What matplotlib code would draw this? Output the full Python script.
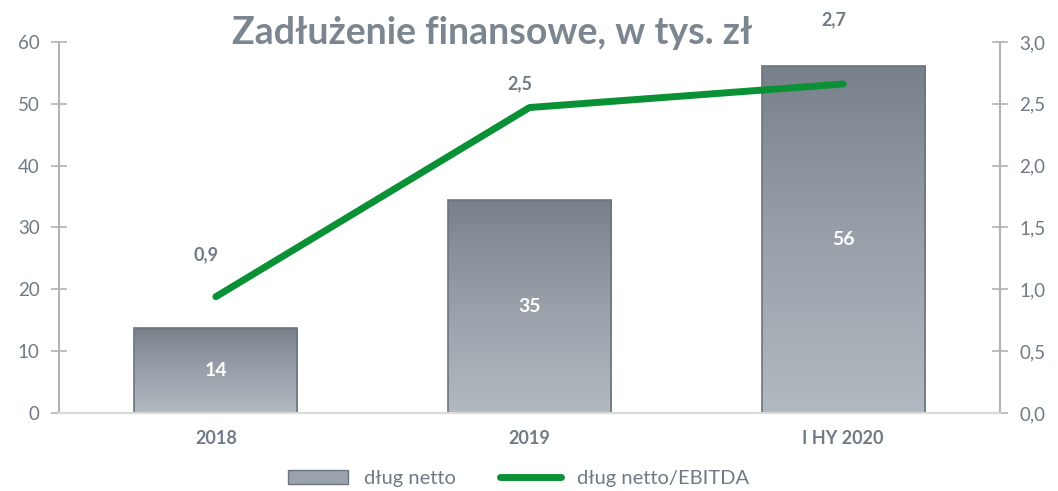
import numpy as np
import matplotlib.pyplot as plt
from matplotlib.patches import Rectangle
from matplotlib.lines import Line2D
from matplotlib.colors import LinearSegmentedColormap

plt.rcParams['font.family'] = ['Lato', 'DejaVu Sans']

categories = ['2018', '2019', 'I HY 2020']
debt = [13.8, 34.5, 56.1]
debt_labels = ['14', '35', '56']
ratio = [0.94, 2.47, 2.66]
ratio_labels = ['0,9', '2,5', '2,7']
left_ticks = [0, 10, 20, 30, 40, 50, 60]
right_ticks = [0.0, 0.5, 1.0, 1.5, 2.0, 2.5, 3.0]
right_tick_labels = ['0,0', '0,5', '1,0', '1,5', '2,0', '2,5', '3,0']

txt = '#6f7a86'
axis_col = '#b3b3b3'
green = '#0a9136'

fig = plt.figure(figsize=(10.58, 4.91), dpi=100)
ax = fig.add_axes([0.0558, 0.159, 0.8894, 0.7555])
ax2 = ax.twinx()

x = np.arange(len(categories))
width = 0.52
ax.set_xlim(-0.5, 2.5)
ax.set_ylim(0, 60)
ax2.set_ylim(0, 3)

# gradient bars, dark at the top, lighter at the bottom
cmap = LinearSegmentedColormap.from_list('bar', ['#b3b9c1', '#99a0a9', '#78818b'])
grad = np.linspace(0, 1, 256).reshape(-1, 1)
for xi, v, lab in zip(x, debt, debt_labels):
    rect = Rectangle((xi - width / 2, 0), width, v, facecolor='none',
                     edgecolor='#6c747d', linewidth=1.2, zorder=3)
    ax.add_patch(rect)
    im = ax.imshow(grad, cmap=cmap, aspect='auto', origin='lower',
                   extent=(xi - width / 2, xi + width / 2, 0, v), zorder=2)
    im.set_clip_path(rect)
    ax.text(xi, v / 2, lab, ha='center', va='center', color='white',
            fontsize=14, fontweight='bold', zorder=5)

ax.set_xticks(x)
ax.set_xticklabels(categories, fontsize=13, fontweight='bold', color=txt)
ax.set_yticks(left_ticks)
ax.tick_params(axis='y', colors=axis_col, labelcolor=txt, labelsize=13.5,
               direction='inout', length=12, width=1.2, pad=8)
ax.tick_params(axis='x', length=0, pad=12)

ax2.set_yticks(right_ticks)
ax2.set_yticklabels(right_tick_labels)
ax2.tick_params(axis='y', colors=axis_col, labelcolor=txt, labelsize=13.5,
                direction='inout', length=12, width=1.2, pad=8)

for a in (ax, ax2):
    a.spines['top'].set_visible(False)
    a.spines['left'].set_color(axis_col)
    a.spines['right'].set_color(axis_col)
    a.spines['left'].set_linewidth(1.5)
    a.spines['right'].set_linewidth(1.5)
    a.spines['bottom'].set_color('#d9d9d9')
    a.spines['bottom'].set_linewidth(1.5)
ax.spines['right'].set_visible(False)
ax2.spines['left'].set_visible(False)

ax2.plot(x, ratio, color=green, linewidth=5, solid_capstyle='round', zorder=4)
offsets = [0.34, 0.19, 0.52]
for xi, r, lab, off in zip(x, ratio, ratio_labels, offsets):
    ax2.text(xi - 0.03, r + off, lab, ha='center', va='center', color=txt,
             fontsize=13, fontweight='bold')

fig.text(0.465, 0.932, 'Zadłużenie finansowe, w tys. zł', ha='center', va='center',
         fontsize=27, fontweight='bold', color='#7c8691')

handles = [Rectangle((0, 0), 1, 1, facecolor='#9aa2ab', edgecolor='#6c747d'),
           Line2D([0], [0], color=green, linewidth=5, solid_capstyle='round')]
fig.legend(handles, ['dług netto', 'dług netto/EBITDA'], loc='center',
           bbox_to_anchor=(0.49, 0.025), ncol=2, frameon=False, fontsize=14.5,
           labelcolor=txt, handlelength=3.0, columnspacing=2.2)

fig.savefig('out.png', dpi=100)
